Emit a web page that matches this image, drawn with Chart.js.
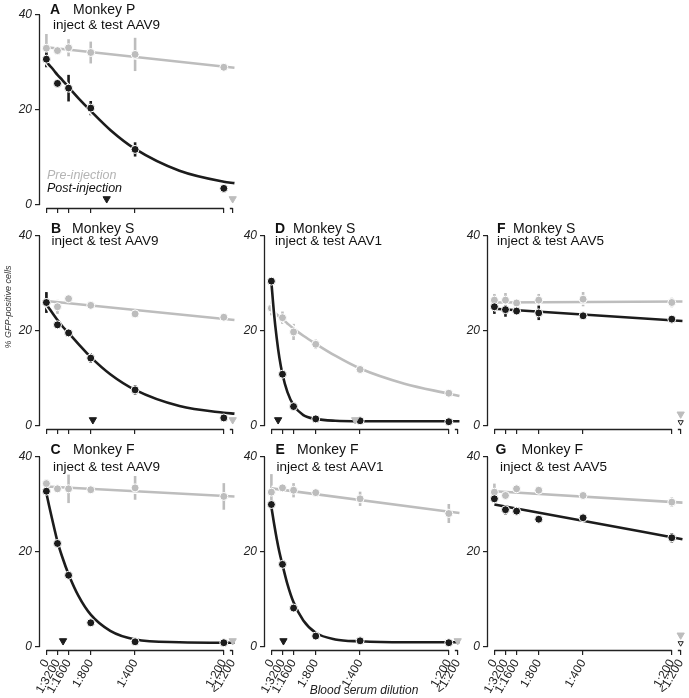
<!DOCTYPE html>
<html>
<head>
<meta charset="utf-8">
<script src="https://cdn.jsdelivr.net/npm/chart.js@4.4.1/dist/chart.umd.min.js"></script>
<style>
  body { margin: 0; background: #fff; }
  #fig { position: relative; width: 689px; height: 698px; overflow: hidden; }
  #fig canvas { position: absolute; }
</style>
</head>
<body>
<div id="fig"></div>
<script>
// serum fraction x 1000 (1:3200 = 0.3125 ...), "<1:200" sits just past 1:200
const dilution = [0, 0.3125, 0.625, 1.25, 2.5, 5]
const tickValues = [0, 0.3125, 0.625, 1.25, 2.5, 5, 5.25]
const tickLabels = ['0', '1:3200', '1:1600', '1:800', '1:400', '1:200', '<1:200']
const yTicks = [0, 20, 40]
const fitLineX = [0, 5.3]
const fitCurveX = [0, 0.075, 0.15, 0.225, 0.3125, 0.45, 0.625, 0.9, 1.25, 1.8, 2.5, 3.75, 5, 5.3]

// A  Monkey P, AAV9
const aPre = [33.0, 32.5, 33.1, 32.1, 31.7, 29.0]
const aPreErr = [3.0, 0.7, 1.8, 2.3, 3.5, 0.6]
const aPost = [30.7, 25.6, 24.6, 20.4, 11.7, 3.5]
const aPostErr = [1.7, 0.6, 2.8, 1.5, 1.5, 0.5]
const aPreFit = [33.2, 28.9]
const aPostFit = [30.2, 29.5, 28.9, 28.2, 27.4, 26.3, 24.8, 22.5, 19.8, 15.8, 11.8, 7.2, 4.9, 4.6]

// B  Monkey S, AAV9
const bPre = [26.0, 25.1, 26.8, 25.4, 23.6, 22.9]
const bPreErr = [2.0, 1.5, 0.6, 0.8, 0.6, 0.8]
const bPost = [26.0, 21.3, 19.6, 14.3, 7.6, 1.7]
const bPostErr = [2.2, 0.8, 0.6, 1.0, 1.0, 0.5]
const bPreFit = [26.3, 22.3]
const bPostFit = [25.6, 24.8, 24.0, 23.2, 22.3, 21.0, 19.6, 17.3, 14.5, 10.9, 7.6, 4.2, 2.8, 2.6]

// C  Monkey F, AAV9
const cPre = [34.4, 33.3, 33.3, 33.1, 33.5, 31.7]
const cPreErr = [0.8, 0.6, 3.0, 0.6, 2.5, 2.8]
const cPost = [32.8, 21.8, 15.1, 5.1, 1.1, 0.9]
const cPostErr = [0.5, 0.5, 0.5, 0.5, 0.4, 0.4]
const cPreFit = [33.8, 31.7]
const cPostFit = [32.4, 29.8, 27.3, 24.9, 22.2, 18.9, 15.3, 10.8, 6.8, 3.4, 1.6, 1.0, 0.9, 0.9]

// D  Monkey S, AAV1
const dPre = [24.8, 22.8, 19.8, 17.2, 11.9, 6.9]
const dPreErr = [1.5, 1.3, 1.7, 1.0, 0.6, 0.6]
const dPost = [30.5, 10.9, 4.1, 1.5, 1.1, 0.9]
const dPostErr = [0.5, 0.5, 0.4, 0.4, 0.4, 0.3]
const dPreFit = [24.4, 24.0, 23.5, 23.0, 22.5, 21.6, 20.5, 19.0, 17.3, 14.8, 12.1, 8.9, 6.8, 6.3]
const dPostFit = [30.3, 23.6, 18.5, 14.4, 10.9, 7.2, 4.4, 2.3, 1.5, 1.1, 1.0, 1.0, 1.0, 1.0]

// E  Monkey F, AAV1
const ePre = [32.6, 33.5, 33.0, 32.5, 31.2, 28.1]
const ePreErr = [3.8, 0.8, 1.5, 0.6, 1.5, 2.0]
const ePost = [30.0, 17.4, 8.2, 2.3, 1.3, 0.9]
const ePostErr = [0.5, 0.6, 0.5, 0.5, 0.5, 0.4]
const ePreFit = [33.4, 28.2]
const ePostFit = [29.5, 26.0, 22.8, 20.0, 17.3, 13.3, 9.4, 5.6, 3.0, 1.6, 1.2, 1.0, 1.0, 1.0]

// F  Monkey S, AAV5
const fPre = [26.5, 26.5, 25.9, 26.5, 26.7, 26.0]
const fPreErr = [1.3, 1.5, 0.6, 1.3, 1.5, 1.0]
const fPost = [25.1, 24.5, 24.2, 23.8, 23.2, 22.5]
const fPostErr = [1.5, 1.5, 0.6, 1.5, 0.6, 0.6]
const fPreFit = [26.0, 26.2]
const fPostFit = [24.7, 22.1]

// G  Monkey F, AAV5
const gPre = [32.6, 31.9, 33.3, 33.0, 31.9, 30.5]
const gPreErr = [1.8, 0.8, 0.6, 0.8, 0.6, 1.0]
const gPost = [31.2, 28.9, 28.6, 26.9, 27.2, 23.0]
const gPostErr = [0.6, 1.0, 0.6, 0.6, 0.8, 1.0]
const gPreFit = [32.8, 30.4]
const gPostFit = [30.0, 22.7]

// titer arrowheads (x position on dilution axis)
const postTiter = [1.70, 1.31, 0.47, 0.19, 0.34, 5.25, 5.25]
const preTiter = [5.25, 5.25, 5.25, 2.36, 5.25, 5.25, 5.25]

const gray = '#bdbdbd'
const black = '#1c1c1c'
const ink = '#222'
const family = "'Liberation Sans', Arial, Helvetica, sans-serif"

const colAxis = [40, 265, 488]
const rowTop = [15, 236, 457]
const rowText = [[-5, 10], [-6.5, 5.7], [-7, 10.3]]

const panels = [
  { id: 'A', col: 0, row: 0, monkey: 'P', aav: 'AAV9', pre: aPre, preErr: aPreErr, post: aPost, postErr: aPostErr, preFitX: fitLineX, preFit: aPreFit, postFit: aPostFit, tx: [10, 33, 13] },
  { id: 'B', col: 0, row: 1, monkey: 'S', aav: 'AAV9', pre: bPre, preErr: bPreErr, post: bPost, postErr: bPostErr, preFitX: fitLineX, preFit: bPreFit, postFit: bPostFit, tx: [11, 32, 11.5] },
  { id: 'C', col: 0, row: 2, monkey: 'F', aav: 'AAV9', pre: cPre, preErr: cPreErr, post: cPost, postErr: cPostErr, preFitX: fitLineX, preFit: cPreFit, postFit: cPostFit, tx: [10.5, 33, 13] },
  { id: 'D', col: 1, row: 1, monkey: 'S', aav: 'AAV1', pre: dPre, preErr: dPreErr, post: dPost, postErr: dPostErr, preFitX: fitCurveX, preFit: dPreFit, postFit: dPostFit, tx: [10, 28, 10] },
  { id: 'E', col: 1, row: 2, monkey: 'F', aav: 'AAV1', pre: ePre, preErr: ePreErr, post: ePost, postErr: ePostErr, preFitX: fitLineX, preFit: ePreFit, postFit: ePostFit, tx: [10.5, 32, 11.5] },
  { id: 'F', col: 2, row: 1, monkey: 'S', aav: 'AAV5', pre: fPre, preErr: fPreErr, post: fPost, postErr: fPostErr, preFitX: fitLineX, preFit: fPreFit, postFit: fPostFit, tx: [9, 25, 9], postFitX: fitLineX },
  { id: 'G', col: 2, row: 2, monkey: 'F', aav: 'AAV5', pre: gPre, preErr: gPreErr, post: gPost, postErr: gPostErr, preFitX: fitLineX, preFit: gPreFit, postFit: gPostFit, tx: [7.5, 33.5, 12], postFitX: fitLineX }
]

const pts = (xs, ys) => xs.map((v, i) => ({ x: v, y: ys[i] }))

const fitLine = (xs, ys, color, width, order) => ({
  type: 'line',
  data: pts(xs, ys),
  borderColor: color,
  borderWidth: width,
  pointRadius: 0,
  cubicInterpolationMode: 'monotone',
  fill: false,
  order
})

const dots = (ys, errs, color, order) => ({
  type: 'scatter',
  data: pts(dilution, ys),
  errs,
  backgroundColor: color,
  borderColor: '#fff',
  borderWidth: 1,
  pointRadius: 4,
  order
})

const arrow = (xv, yv, fill, stroke, r) => ({
  type: 'scatter',
  data: [{ x: xv, y: yv }],
  pointStyle: 'triangle',
  rotation: 180,
  backgroundColor: fill,
  borderColor: stroke,
  borderWidth: 1,
  pointRadius: r,
  order: 0
})

const makeDecor = (p) => ({
  id: 'decor' + p.id,
  beforeDatasetsDraw(chart) {
    const { ctx, scales: { x, y } } = chart
    ctx.save()
    ctx.lineWidth = 2.6
    chart.data.datasets.forEach(ds => {
      if (!ds.errs) return
      ctx.strokeStyle = ds.backgroundColor
      ds.data.forEach((pt, j) => {
        const px = x.getPixelForValue(pt.x)
        ctx.beginPath()
        ctx.moveTo(px, y.getPixelForValue(pt.y - ds.errs[j]))
        ctx.lineTo(px, y.getPixelForValue(pt.y + ds.errs[j]))
        ctx.stroke()
      })
    })
    ctx.restore()
  },
  afterDraw(chart) {
    const { ctx, chartArea: a, scales: { x, y } } = chart
    ctx.save()
    // detached axes
    ctx.strokeStyle = ink
    ctx.lineWidth = 1.3
    const ax = Math.round(a.left) - 0.5
    const ay = Math.round(a.bottom) + 0.5
    ctx.beginPath()
    ctx.moveTo(ax, y.getPixelForValue(40))
    ctx.lineTo(ax, y.getPixelForValue(0))
    ctx.moveTo(x.getPixelForValue(0), ay)
    ctx.lineTo(x.getPixelForValue(5), ay)
    ctx.moveTo(x.getPixelForValue(5.17), ay)
    ctx.lineTo(x.getPixelForValue(5.25), ay)
    ctx.stroke()

    // panel heading
    const [dy1, dy2] = rowText[p.row]
    ctx.fillStyle = '#111'
    ctx.textBaseline = 'middle'
    ctx.textAlign = 'left'
    ctx.font = `bold 14px ${family}`
    ctx.fillText(p.id, a.left + p.tx[0], a.top + dy1)
    ctx.font = `14px ${family}`
    ctx.fillText('Monkey ' + p.monkey, a.left + p.tx[1], a.top + dy1)
    ctx.font = `13.5px ${family}`
    ctx.fillText('inject & test ' + p.aav, a.left + p.tx[2], a.top + dy2)

    if (p.id === 'A') {
      ctx.textBaseline = 'alphabetic'
      ctx.font = `italic 12.5px ${family}`
      ctx.fillStyle = '#b4b4b4'
      ctx.fillText('Pre-injection', a.left + 7, a.top + 164)
      ctx.fillStyle = '#111'
      ctx.fillText('Post-injection', a.left + 7, a.top + 177)
    }
    if (p.id === 'B') {
      ctx.font = `italic 9px ${family}`
      ctx.fillStyle = '#333'
      ctx.textAlign = 'center'
      ctx.textBaseline = 'middle'
      ctx.translate(a.left - 32, a.top + 71)
      ctx.rotate(-Math.PI / 2)
      ctx.fillText('% GFP-positive cells', 0, 0)
    }
    ctx.restore()
  }
})

const fig = document.getElementById('fig')

panels.forEach((p, idx) => {
  const bottomRow = p.row === 2
  const left = colAxis[p.col] - 40
  const top = rowTop[p.row] - 15
  const height = bottomRow ? 698 - top : 220
  const canvas = document.createElement('canvas')
  canvas.width = 250
  canvas.height = height
  canvas.style.left = left + 'px'
  canvas.style.top = top + 'px'
  fig.appendChild(canvas)

  const openTiter = p.col === 2
  const datasets = [
    fitLine(p.preFitX, p.preFit, '#fff', 5.5, 10),
    fitLine(p.preFitX, p.preFit, gray, 2.6, 9),
    dots(p.pre, p.preErr, gray, 8),
    fitLine(p.postFitX || fitCurveX, p.postFit, '#fff', 5.5, 7),
    fitLine(p.postFitX || fitCurveX, p.postFit, black, 2.6, 6),
    dots(p.post, p.postErr, black, 5),
    openTiter ? arrow(preTiter[idx], 2.5, gray, gray, 4.2) : arrow(preTiter[idx], 1.3, gray, gray, 4.2),
    openTiter ? arrow(postTiter[idx], 0.8, '#fff', black, 3) : arrow(postTiter[idx], 1.3, black, black, 4.2)
  ]

  new Chart(canvas, {
    type: 'scatter',
    data: { datasets },
    options: {
      responsive: false,
      animation: false,
      devicePixelRatio: 1,
      layout: { padding: { top: 15, right: 12, left: 0, bottom: 0 } },
      plugins: { legend: { display: false }, tooltip: { enabled: false } },
      scales: {
        x: {
          type: 'linear',
          min: -0.18,
          max: 5.4,
          afterBuildTicks: (scale) => { scale.ticks = tickValues.map(v => ({ value: v })) },
          afterFit: (scale) => { scale.height = height - 15 - 193 },
          border: { display: false },
          grid: { drawOnChartArea: false, drawTicks: true, tickLength: 5, color: ink, lineWidth: 1.2 },
          ticks: {
            display: bottomRow,
            autoSkip: false,
            minRotation: 60,
            maxRotation: 60,
            padding: 2,
            color: ink,
            font: { family, size: 12 },
            callback: (v) => tickLabels[tickValues.indexOf(v)]
          },
          title: {
            display: p.id === 'E',
            text: 'Blood serum dilution',
            color: ink,
            font: { family, size: 12, style: 'italic' },
            padding: { top: 0, bottom: 0 }
          }
        },
        y: {
          type: 'linear',
          min: -0.63,
          max: 40,
          afterBuildTicks: (scale) => { scale.ticks = yTicks.map(v => ({ value: v })) },
          afterFit: (scale) => { scale.width = 40 },
          border: { display: false },
          grid: { drawOnChartArea: false, drawTicks: true, tickLength: 5, color: ink, lineWidth: 1.2 },
          ticks: {
            padding: 3,
            color: ink,
            font: { family, size: 12, style: 'italic' }
          }
        }
      }
    },
    plugins: [makeDecor(p)]
  })
})
</script>
</body>
</html>
